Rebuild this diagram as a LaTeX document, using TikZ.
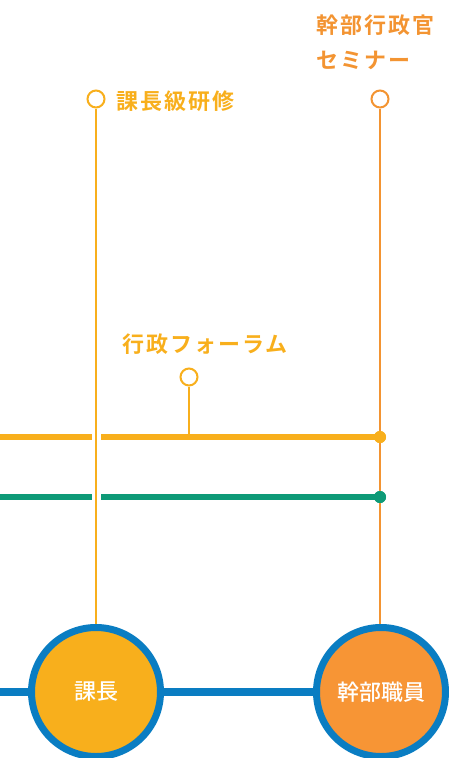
\documentclass[tikz,border=0pt]{standalone}
\usepackage{fontspec}
\newfontfamily\jp[LetterSpace=9]{Noto Sans CJK JP Bold}
\newfontfamily\jpc{Noto Sans CJK JP Medium}
\definecolor{cyel}{HTML}{F8AF1C}
\definecolor{corg}{HTML}{F39432}
\definecolor{cfill}{HTML}{F79535}
\definecolor{cblue}{HTML}{0A7DC2}
\definecolor{cgreen}{HTML}{0E9A77}
\tikzset{
  lbl/.style={inner sep=0pt, font=\jp\fontsize{22}{24}\selectfont},
  stop/.style={circle, draw, line width=2pt, fill=white, minimum size=17pt, inner sep=0pt},
  big/.style={circle, draw=cblue, line width=7pt, minimum size=129pt, inner sep=0pt, text=white, font=\jpc\fontsize{22}{24}\selectfont},
  hline/.style={line width=6pt},
  vline/.style={line width=2pt},
  dot/.style={circle, inner sep=0pt, minimum size=12pt}
}
\begin{document}
\begin{tikzpicture}[x=1pt,y=-1pt]
\useasboundingbox (0,0) rectangle (449,758);
\node[stop, draw=cyel] (s1) at (96,99) {};
\node[stop, draw=corg] (s2) at (380,99) {};
\node[stop, draw=cyel] (s3) at (189,377) {};
\node[lbl, text=cyel, anchor=west] (t1) at (116,101) {課長級研修};
\node[lbl, text=corg, anchor=west] (t2) at (316,25) {幹部行政官};
\node[lbl, text=corg, anchor=west] (t3) at (316,60) {セミナー};
\node[lbl, text=cyel, anchor=west] (t4) at (122,344) {行政フォーラム};
\coordinate (yl) at (0,437);
\coordinate (yg1) at (92,437);
\coordinate (yg2) at (101,437);
\coordinate (gl) at (0,497);
\coordinate (gg1) at (92,497);
\coordinate (gg2) at (101,497);
\coordinate (bl) at (0,692);
\coordinate (s3b) at (189,437);
\node[dot, fill=cyel] (yd) at (380,437) {};
\node[dot, fill=cgreen] (gd) at (380,497) {};
\node[big, fill=cyel] (c1) at (96,692) {課長};
\node[big, fill=cfill] (c2) at (381,692) {幹部職員};
\draw[hline, cyel] (yl) -- (yg1);
\draw[hline, cyel] (yg2) -- (yd.center);
\draw[hline, cgreen] (gl) -- (gg1);
\draw[hline, cgreen] (gg2) -- (gd.center);
\draw[vline, cyel] (s3) -- (s3b);
\draw[vline, cyel] (s1) -- (c1);
\draw[vline, corg] (s2) -- (c2.north -| s2);
\draw[line width=8pt, cblue] (bl) -- (c1);
\draw[line width=8pt, cblue] (c1) -- (c2);
\node[dot, fill=cyel] at (yd) {};
\node[dot, fill=cgreen] at (gd) {};
\end{tikzpicture}
\end{document}
